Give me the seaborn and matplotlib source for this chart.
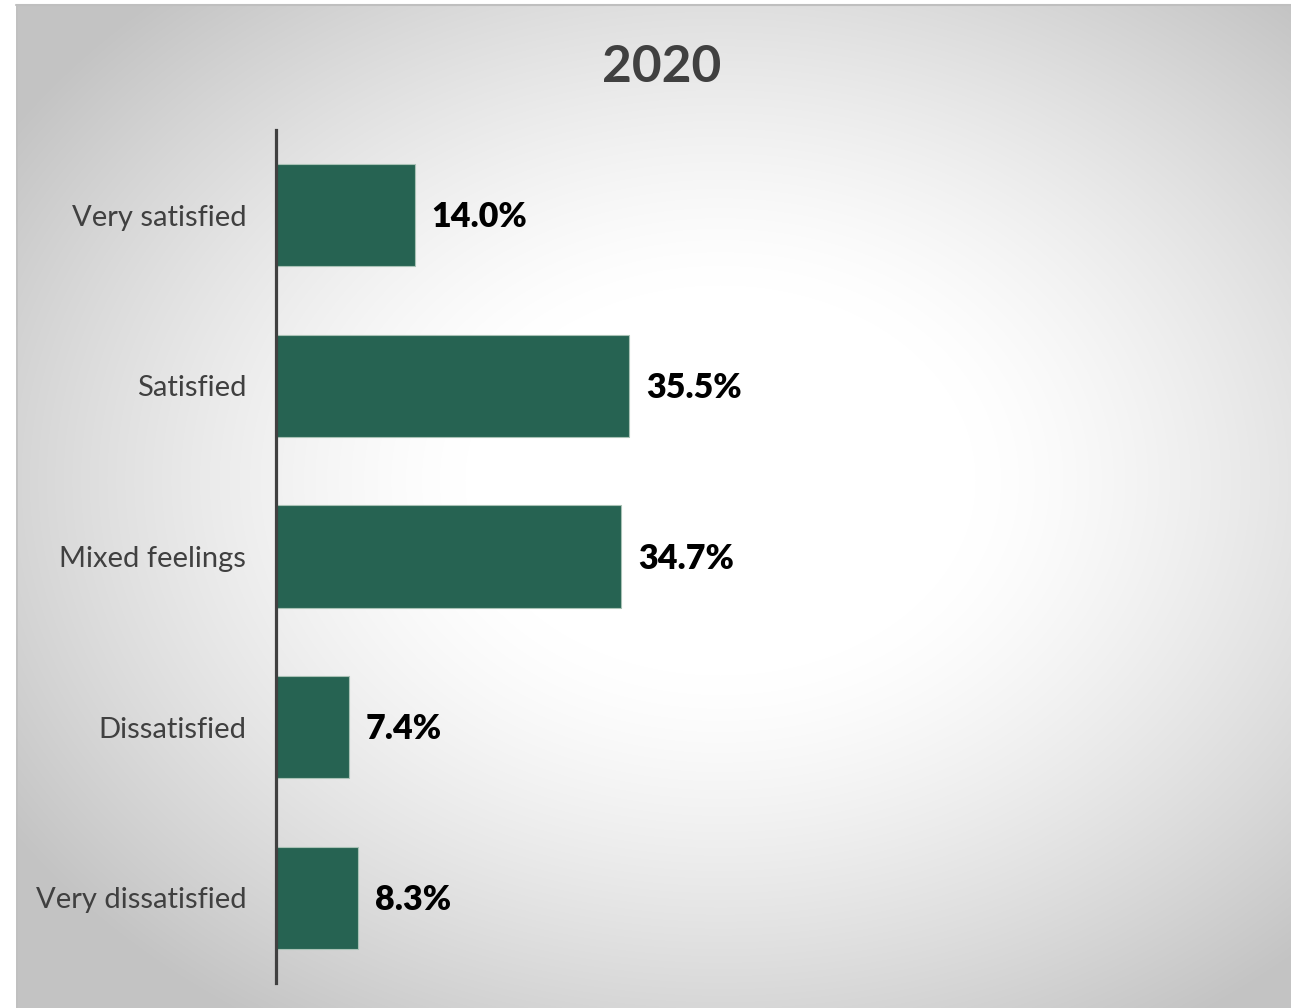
import numpy as np
import matplotlib
matplotlib.use("Agg")
import matplotlib.pyplot as plt
import seaborn as sns

# Survey results, 2020
categories = ["Very satisfied", "Satisfied", "Mixed feelings", "Dissatisfied", "Very dissatisfied"]
shares = [14.0, 35.5, 34.7, 7.4, 8.3]
title = "2020"

BAR_COLOR = "#266352"
TEXT_DARK = "#404040"

sns.set_theme(style="white")
plt.rcParams["font.family"] = ["Lato", "DejaVu Sans"]

W, H, DPI = 1291, 1008, 100
fig = plt.figure(figsize=(W / DPI, H / DPI), dpi=DPI)
fig.patch.set_facecolor("white")

# Background panel with a soft radial gradient (white centre, grey edges)
px0, py_top = 16, 5
bg = fig.add_axes([px0 / W, 0, (W - px0) / W, (H - py_top) / H], zorder=0)
gx = np.arange(px0, W)
gy = np.arange(py_top, H)
XX, YY = np.meshgrid(gx, gy)
cx, cy = 720, 480
r = np.sqrt(((XX - cx) / 850.0) ** 2 + ((YY - cy) / 650.0) ** 2)
t = np.clip((r - 0.3) / (1.0 - 0.3), 0, 1)
shade = 255 - 60 * t ** 1.3
img = np.dstack([shade, shade, shade]) / 255.0
bg.imshow(img, aspect="auto", interpolation="bilinear")
bg.set_axis_off()
fig.add_artist(plt.Line2D([px0 / W, 1], [(H - 4.5) / H] * 2, color="#bfbfbf", lw=1.5))
fig.add_artist(plt.Line2D([(px0 + 0.5) / W] * 2, [0, (H - 4.5) / H], color="#c0c0c0", lw=1.2))

# Bar chart
left_px, right_px = 275.5, 1270
top_px, bottom_px = 130, 983
ax = fig.add_axes([left_px / W, (H - bottom_px) / H,
                   (right_px - left_px) / W, (bottom_px - top_px) / H], zorder=1)
ax.patch.set_alpha(0)

sns.barplot(x=shares, y=categories, orient="h", color=BAR_COLOR, saturation=1,
            width=0.6, edgecolor="#a9c2b6", linewidth=0.8, ax=ax)

ax.set_xlim(0, (right_px - left_px) / 9.97)
ax.set_ylim(len(categories) - 0.5, -0.5)

for sp in ["top", "right", "bottom"]:
    ax.spines[sp].set_visible(False)
ax.spines["left"].set_color(TEXT_DARK)
ax.spines["left"].set_linewidth(2.3)
ax.set_xticks([])
ax.set_xlabel("")
ax.set_ylabel("")
ax.tick_params(axis="y", length=0, pad=21, labelsize=21, labelcolor=TEXT_DARK)

for i, v in enumerate(shares):
    ax.annotate(f"{v:.1f}%", xy=(v, i), xytext=(12, -1.5), textcoords="offset points",
                ha="left", va="center", fontsize=24.5, fontweight="heavy", color="black")

fig.text(662 / W, 1 - 67 / H, title, ha="center", va="center",
         fontsize=37, fontweight="bold", color=TEXT_DARK)

fig.savefig("out.png", dpi=DPI, facecolor=fig.get_facecolor())
